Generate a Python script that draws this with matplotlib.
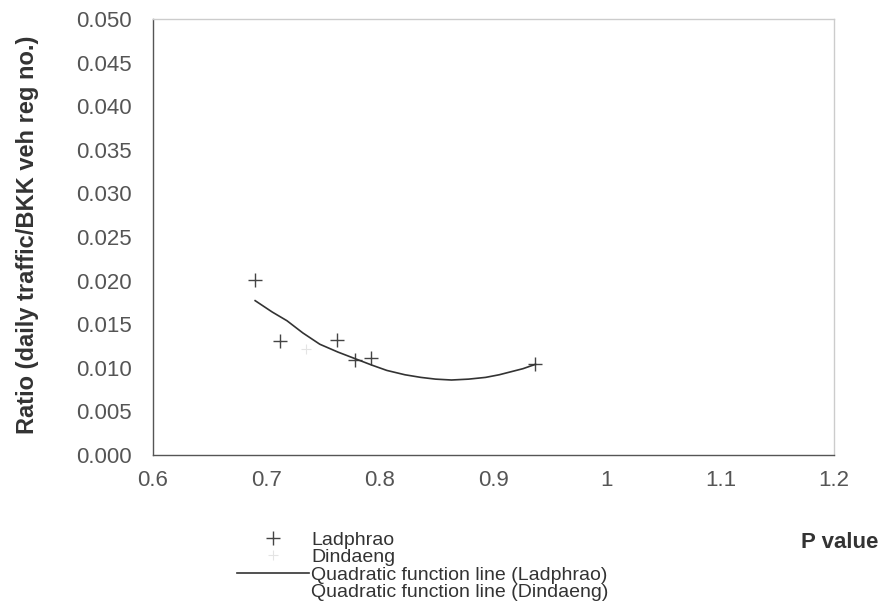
import numpy as np
import matplotlib
matplotlib.use("Agg")
import matplotlib.pyplot as plt

plt.rcParams['font.family'] = ['Liberation Sans', 'DejaVu Sans']

ladphrao_p = [0.690, 0.712, 0.762, 0.778, 0.792, 0.937]
ladphrao_ratio = [0.0201, 0.0131, 0.0132, 0.0109, 0.0111, 0.0104]

# Dindaeng markers are barely visible in the original
dindaeng_p = [0.735]
dindaeng_ratio = [0.0122]

# Quadratic fit line (Ladphrao)
quad_p = [0.690, 0.705, 0.718, 0.732, 0.747, 0.763, 0.779, 0.793, 0.806,
          0.822, 0.836, 0.849, 0.863, 0.878, 0.893, 0.905, 0.914, 0.926, 0.937]
quad_ratio = [0.0177, 0.0164, 0.0154, 0.0140, 0.0127, 0.0118, 0.0110, 0.0103, 0.0097,
              0.0092, 0.0089, 0.0087, 0.0086, 0.0087, 0.0089, 0.0092, 0.0095, 0.0099, 0.0104]

x_ticks = [0.6, 0.7, 0.8, 0.9, 1.0, 1.1, 1.2]
x_tick_labels = ['0.6', '0.7', '0.8', '0.9', '1', '1.1', '1.2']
y_ticks = [0.0, 0.005, 0.010, 0.015, 0.020, 0.025, 0.030, 0.035, 0.040, 0.045, 0.050]

W, H = 880, 609
fig = plt.figure(figsize=(W / 100, H / 100), dpi=100)
ax = fig.add_axes([153 / W, 1 - 455 / H, (834 - 153) / W, (455 - 19) / H])

h1, = ax.plot(ladphrao_p, ladphrao_ratio, linestyle='none', marker='+',
              markersize=10, markeredgewidth=1.0, color='#444444')
h2, = ax.plot(dindaeng_p, dindaeng_ratio, linestyle='none', marker='+',
              markersize=7, markeredgewidth=0.8, color='#e4e4e4')
h3, = ax.plot(quad_p, quad_ratio, color='#333333', linewidth=1.2)
h4, = ax.plot([], [], color='white', linewidth=1.2)

ax.set_xlim(0.6, 1.2)
ax.set_ylim(0.0, 0.050)
ax.set_xticks(x_ticks)
ax.set_xticklabels(x_tick_labels)
ax.set_yticks(y_ticks)
ax.set_yticklabels(['%.3f' % v for v in y_ticks])
ax.tick_params(length=0, labelsize=16, colors='#555555')
ax.tick_params(axis='y', pad=15)
ax.tick_params(axis='x', pad=11)

for s in ['left', 'bottom']:
    ax.spines[s].set_color('#555555')
    ax.spines[s].set_linewidth(1.0)
for s in ['top', 'right']:
    ax.spines[s].set_color('#cccccc')
    ax.spines[s].set_linewidth(1.0)

fig.text(28 / W, 1 - 235 / H, 'Ratio (daily traffic/BKK veh reg no.)', rotation=90,
         fontsize=17, fontweight='bold', color='#333333', ha='center', va='center')
fig.text(878 / W, 1 - 542 / H, 'P value', fontsize=16, fontweight='bold',
         color='#333333', ha='right', va='center')

fig.legend([h1, h2, h3, h4],
           ['Ladphrao', 'Dindaeng', 'Quadratic function line (Ladphrao)',
            'Quadratic function line (Dindaeng)'],
           loc='upper left', bbox_to_anchor=(237 / W, 1 - 531 / H),
           frameon=False, fontsize=14, labelspacing=0.0, handlelength=3.7,
           handletextpad=0.1, borderpad=0, borderaxespad=0, labelcolor='#333333')

fig.savefig('out.png', dpi=100)
